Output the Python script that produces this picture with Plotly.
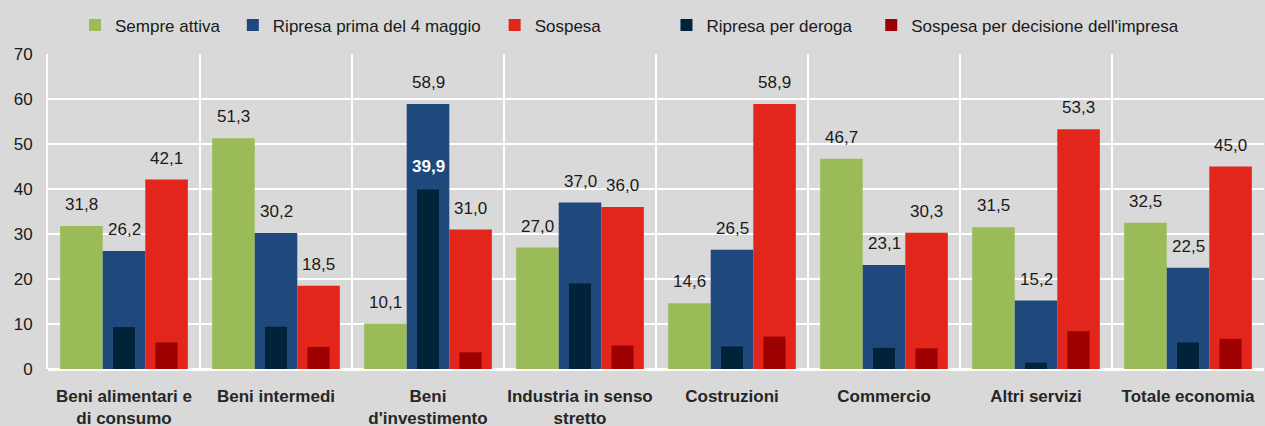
import plotly.graph_objects as go

categories = ["Beni alimentari e<br>di consumo", "Beni intermedi", "Beni<br>d'investimento",
              "Industria in senso<br>stretto", "Costruzioni", "Commercio", "Altri servizi",
              "Totale economia"]
sempre_attiva = [31.8, 51.3, 10.1, 27.0, 14.6, 46.7, 31.5, 32.5]
ripresa_prima = [26.2, 30.2, 58.9, 37.0, 26.5, 23.1, 15.2, 22.5]
sospesa = [42.1, 18.5, 31.0, 36.0, 58.9, 30.3, 53.3, 45.0]
ripresa_deroga = [9.3, 9.4, 39.9, 19.0, 5.0, 4.7, 1.4, 5.9]
sospesa_decisione = [5.9, 4.9, 3.7, 5.2, 7.2, 4.6, 8.4, 6.7]

names = ["Sempre attiva", "Ripresa prima del 4 maggio", "Sospesa",
         "Ripresa per deroga", "Sospesa per decisione dell'impresa"]
colors = ["#9BBB59", "#1F497D", "#E3261B", "#00233A", "#9C0000"]

FONT = "Liberation Sans, Arial, sans-serif"
TXT = "#1a1a1a"
FS = 17

W_MAIN = 0.28
W_DARK = 0.145
centers = [-0.28, 0.0, 0.28, 0.0, 0.28]
widths = [W_MAIN, W_MAIN, W_MAIN, W_DARK, W_DARK]
series = [sempre_attiva, ripresa_prima, sospesa, ripresa_deroga, sospesa_decisione]
legend_ids = ["legend", "legend2", "legend3", "legend4", "legend5"]

fig = go.Figure()
for s, name, col, c, w, lg in zip(series, names, colors, centers, widths, legend_ids):
    fig.add_trace(go.Bar(
        x=categories, y=s, name=name, legend=lg,
        marker=dict(color=col, line=dict(width=0)),
        width=w, offset=c - w / 2, hoverinfo="skip",
    ))

def fmt(v):
    return f"{v:.1f}".replace(".", ",")

annotations = []
for s, c in zip(series[:3], centers[:3]):
    for i, v in enumerate(s):
        annotations.append(dict(
            x=i + c, y=v, xref="x", yref="y", text=fmt(v), showarrow=False,
            yanchor="bottom", yshift=10, font=dict(family=FONT, size=FS, color=TXT)))
# highlighted value for "Ripresa per deroga" in Beni d'investimento
idx = 2
annotations.append(dict(
    x=idx + centers[3], y=ripresa_deroga[idx], xref="x", yref="y",
    text="<b>" + fmt(ripresa_deroga[idx]) + "</b>", showarrow=False,
    yanchor="bottom", yshift=11, font=dict(family=FONT, size=FS, color="white")))

legend_x = [0.0222, 0.152, 0.3673, 0.5086, 0.677]
legend_common = dict(orientation="h", y=1.148, yanchor="top", xanchor="left",
                     bgcolor="rgba(0,0,0,0)", font=dict(family=FONT, size=FS, color=TXT),
                     itemclick=False, itemdoubleclick=False)
layout_legends = {}
for lg, lx in zip(legend_ids, legend_x):
    layout_legends[lg] = dict(x=lx, **legend_common)

fig.update_layout(
    width=1265, height=426,
    margin=dict(l=48, r=1, t=54, b=57, autoexpand=False),
    paper_bgcolor="#D9D9D9", plot_bgcolor="#D9D9D9",
    barmode="overlay",
    font=dict(family=FONT, size=FS, color=TXT),
    annotations=annotations,
    showlegend=True,
    **layout_legends,
)
fig.update_xaxes(
    type="category", tickson="boundaries", showgrid=True, gridcolor="white", gridwidth=2,
    ticks="", ticklabelstandoff=15, showline=False, zeroline=False, tickangle=0,
    automargin=False,
    tickfont=dict(family=FONT, size=FS, color="#262626", weight="bold"),
    range=[-0.5, 7.5],
)
fig.update_yaxes(
    range=[0, 70], dtick=10, showgrid=True, gridcolor="white", gridwidth=2,
    zeroline=True, zerolinecolor="white", zerolinewidth=3,
    showline=True, linecolor="white", linewidth=2,
    ticks="", ticklabelstandoff=10, automargin=False,
    tickfont=dict(family=FONT, size=FS, color=TXT),
)

fig.write_html("out.html", config={"displayModeBar": False},
               post_script="document.body.style.margin='0';")
